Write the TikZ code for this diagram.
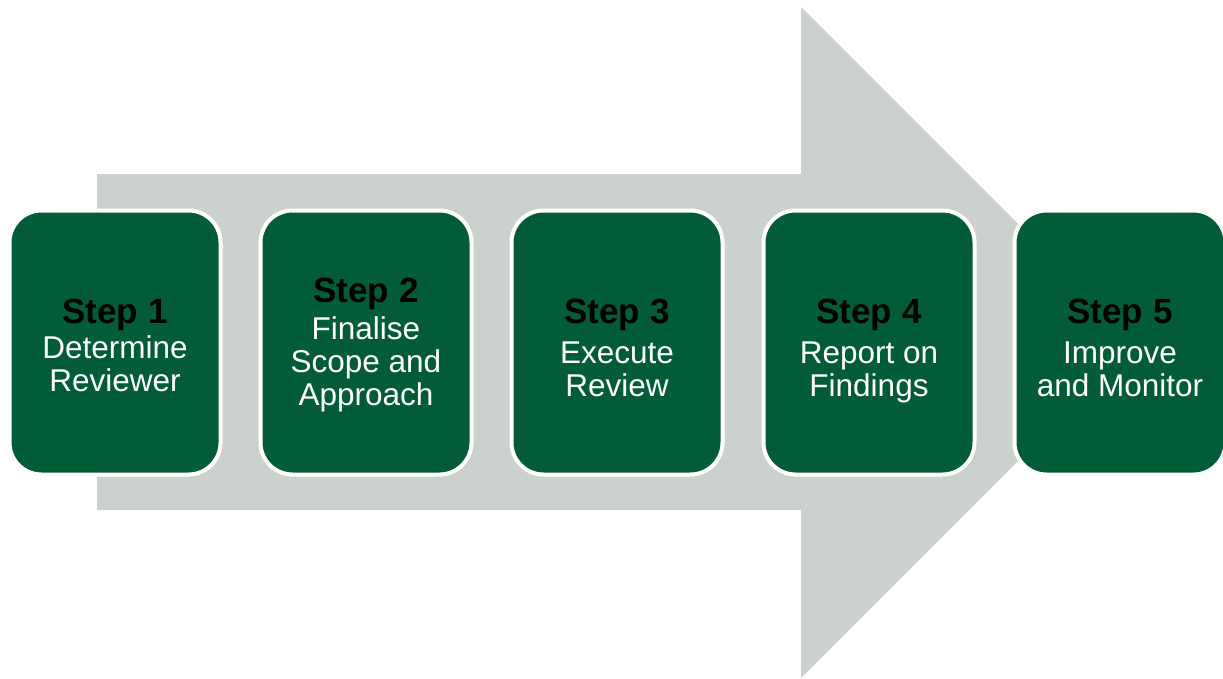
\documentclass[tikz,border=0pt]{standalone}
\usepackage{fontspec}
\setmainfont{Liberation Sans}
\definecolor{stepgreen}{HTML}{025C38}
\definecolor{arrowgray}{HTML}{CBD2CE}
\newcommand{\steptitle}[1]{{\fontsize{35}{36}\selectfont\bfseries\color{black}#1}}
\begin{document}
\begin{tikzpicture}[x=1pt,y=-1pt,
  stepbox/.style={draw=white, line width=4pt, fill=stepgreen, rounded corners=32pt,
    minimum width=211pt, minimum height=264pt, inner sep=0pt},
  steptext/.style={align=center, text=white, inner sep=0pt,
    font=\fontsize{31.5}{33}\selectfont}
]
\useasboundingbox (0,0) rectangle (1223,678);
\fill[arrowgray] (97,174) -- (801,174) -- (801,7) -- (1136.5,342.5) -- (801,678)
  -- (801,510) -- (97,510) -- cycle;
\node[stepbox] (b1) at (115,342.5) {};
\node[stepbox] (b2) at (366,342.5) {};
\node[stepbox] (b3) at (617,342.5) {};
\node[stepbox] (b4) at (869,342.5) {};
\node[stepbox] (b5) at (1120,342.5) {};
\node[steptext, yshift=-3pt] (t1) at (b1.center) {\steptitle{Step 1}\\[2pt]Determine\\Reviewer};
\node[steptext, yshift=-3pt] (t2) at (b2.center) {\steptitle{Step 2}\\[4pt]Finalise\\Scope and\\Approach};
\node[steptext, yshift=-5.5pt] (t3) at (b3.center) {\steptitle{Step 3}\\[7pt]Execute\\Review};
\node[steptext, yshift=-8.5pt] (t4) at (b4.center) {\steptitle{Step 4}\\[7pt]Report on\\Findings};
\node[steptext, yshift=-5.5pt] (t5) at (b5.center) {\steptitle{Step 5}\\[7pt]Improve\\and Monitor};
\end{tikzpicture}
\end{document}
